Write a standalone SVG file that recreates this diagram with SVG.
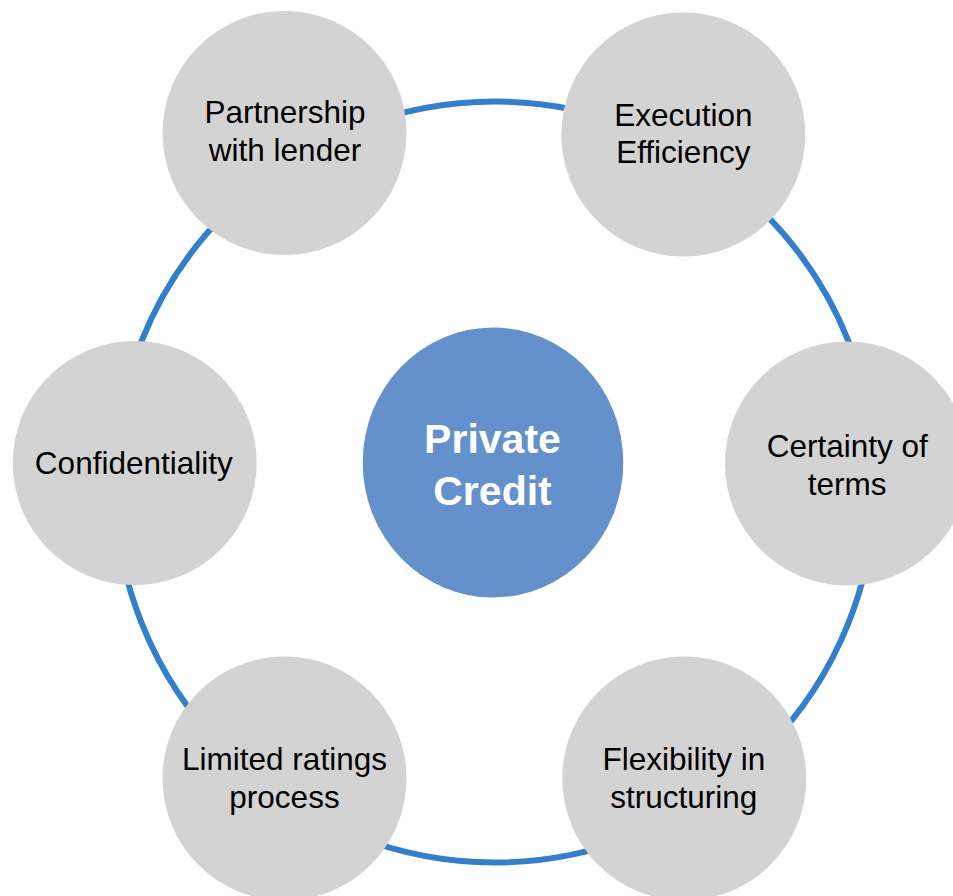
<svg xmlns="http://www.w3.org/2000/svg" width="953" height="896" viewBox="0 0 953 896">
<style>
.ring{fill:none;stroke:#337FCC;stroke-width:6}
.node{fill:#D3D3D3}
.hub{fill:#6491CB}
.lbl{font-family:"Liberation Sans",Arial,sans-serif;font-size:31.5px;fill:#000;text-anchor:middle}
.hubl{font-family:"Liberation Sans",Arial,sans-serif;font-size:41px;font-weight:bold;fill:#FFF;text-anchor:middle}
</style>
<rect width="953" height="896" fill="#FFF"/>
<g id="connectors">
<circle class="ring" cx="495" cy="482" r="380.5"/>
</g>
<g id="hub">
<ellipse class="hub" cx="493" cy="462.5" rx="130.3" ry="135"/>
<text class="hubl" x="492.5" y="452.7">Private</text>
<text class="hubl" x="492.5" y="505">Credit</text>
</g>
<g id="partnership">
<circle class="node" cx="284.5" cy="133" r="122"/>
<text class="lbl" x="285" y="122.7">Partnership</text>
<text class="lbl" x="285" y="160.7">with lender</text>
</g>
<g id="execution">
<circle class="node" cx="683.3" cy="134.5" r="122"/>
<text class="lbl" x="683.3" y="126">Execution</text>
<text class="lbl" x="683.3" y="163.3">Efficiency</text>
</g>
<g id="confidentiality">
<circle class="node" cx="134.7" cy="463" r="122"/>
<text class="lbl" x="133.8" y="474.3">Confidentiality</text>
</g>
<g id="certainty">
<circle class="node" cx="847" cy="463.5" r="122"/>
<text class="lbl" x="847.2" y="456.7">Certainty of</text>
<text class="lbl" x="847.2" y="495">terms</text>
</g>
<g id="limited">
<circle class="node" cx="284.5" cy="778.5" r="122"/>
<text class="lbl" x="284.5" y="770">Limited ratings</text>
<text class="lbl" x="284.5" y="808.3">process</text>
</g>
<g id="flexibility">
<circle class="node" cx="684.3" cy="778.5" r="122"/>
<text class="lbl" x="683.8" y="770">Flexibility in</text>
<text class="lbl" x="683.8" y="808.3">structuring</text>
</g>
</svg>
